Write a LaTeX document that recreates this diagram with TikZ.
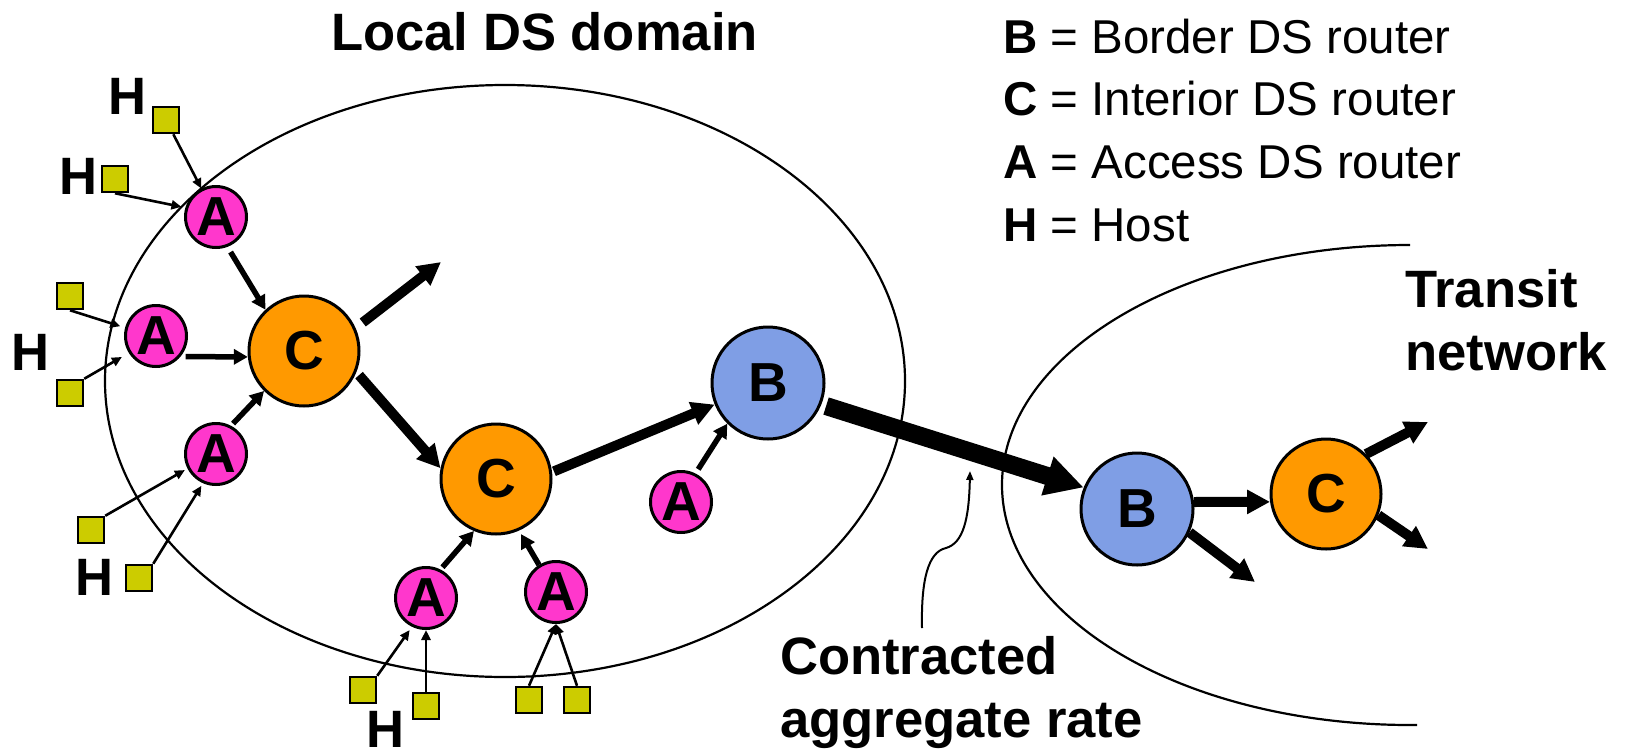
\documentclass[tikz,border=0pt]{standalone}
\usepackage{fontspec}
\setmainfont{Liberation Sans}
\usetikzlibrary{arrows.meta}
\definecolor{amag}{RGB}{255,55,204}
\definecolor{corange}{RGB}{255,153,0}
\definecolor{bblue}{RGB}{127,158,229}
\definecolor{hostyel}{RGB}{204,204,0}
\begin{document}
\begin{tikzpicture}[x=1pt,y=-1pt,
  router/.style={circle, draw=black, line width=3pt, inner sep=0pt, font=\fontsize{55}{60}\selectfont\bfseries},
  anode/.style={router, fill=amag, minimum size=61pt},
  cnode/.style={router, fill=corange, minimum size=110pt},
  bnode/.style={router, fill=bblue, minimum size=112pt},
  host/.style={rectangle, draw=black, line width=2.5pt, fill=hostyel, minimum size=26pt, inner sep=0pt},
  hlabel/.style={anchor=base west, inner sep=0pt, font=\fontsize{52.6}{60}\selectfont\bfseries},
  legend/.style={anchor=base west, inner sep=0pt, font=\fontsize{47.5}{55}\selectfont},
  dsregion/.style={draw=black, line width=2.2pt},
  harrow/.style={line width=2.6pt, -{Triangle[length=10pt,width=9pt]}},
  marrow/.style={line width=5.5pt, -{Triangle[length=14pt,width=15pt]}},
  tarrow/.style={line width=10pt, -{Triangle[length=23pt,width=23pt]}},
  barrow/.style={line width=18pt, -{Triangle[length=38pt,width=38pt]}},
  curvearrow/.style={line width=2pt, -{Triangle[length=9pt,width=7pt]}}
]
\useasboundingbox (0,0) rectangle (1630,753);

% domains
\draw[dsregion] (505,381) ellipse [x radius=400pt, y radius=296pt];
\draw[dsregion] (1410,245) arc[start angle=90, end angle=271, x radius=408pt, y radius=240pt];

% texts
\node[hlabel] (title) at (331,50) {Local DS domain};
\node[legend] (lgB) at (1003,53) {\textbf{B} = Border DS router};
\node[legend] (lgC) at (1003,115) {\textbf{C} = Interior DS router};
\node[legend] (lgA) at (1003,178) {\textbf{A} = Access DS router};
\node[legend] (lgH) at (1003,241) {\textbf{H} = Host};
\node[hlabel] (transit) at (1405,307) {\vtop{\baselineskip=63pt\hbox{Transit}\hbox{network}}};
\node[hlabel] (rate) at (780,674) {\vtop{\baselineskip=63pt\hbox{Contracted}\hbox{aggregate rate}}};

\node[hlabel] (hl1) at (108,114) {H};
\node[hlabel] (hl2) at (59,194) {H};
\node[hlabel] (hl3) at (11,370) {H};
\node[hlabel] (hl4) at (75,595) {H};
\node[hlabel] (hl5) at (366,747) {H};

% hosts
\node[host] (H1) at (166,120) {};
\node[host] (H2) at (115,179) {};
\node[host] (H3) at (70,296) {};
\node[host] (H4) at (70,393) {};
\node[host] (H5) at (91,530) {};
\node[host] (H6) at (139,578) {};
\node[host] (H7) at (363,690) {};
\node[host] (H8) at (426,706) {};
\node[host] (H9) at (529,700) {};
\node[host] (H10) at (577,700) {};

% routers
\node[anode] (A1) at (216,217) {A};
\node[anode] (A2) at (156,336) {A};
\node[anode] (A3) at (216,454) {A};
\node[anode] (A4) at (681,502) {A};
\node[anode] (A5) at (426,598) {A};
\node[anode] (A6) at (556,592) {A};
\node[cnode] (C1) at (304,351) {C};
\node[cnode] (C2) at (496,479) {C};
\node[cnode] (C3) at (1326,494) {C};
\node[bnode] (B1) at (768,383) {B};
\node[bnode] (B2) at (1137,509) {B};

% free ends
\coordinate (o1) at (441,262);
\coordinate (o2) at (1255,582);
\coordinate (o3) at (1428,422);
\coordinate (o4) at (1428,549);
\coordinate (ca) at (922,628);
\coordinate (cb) at (970,471);

% host links
\draw[harrow] (H1) -- (A1);
\draw[harrow, shorten >=4pt] (H2.south) -- (A1.163);
\draw[harrow, shorten >=5pt] (H3.south) -- (A2.165);
\draw[harrow, shorten >=8pt] (H4.north east) -- (A2.212);
\draw[harrow, shorten >=3pt] (H5.north east) -- (A3.207);
\draw[harrow, shorten >=3pt] (H6.north east) -- (A3.246);
\draw[harrow, shorten >=4pt] (H7.north east) -- (A5.244);
\draw[harrow] (H8) -- (A5);
\draw[harrow] (H9.north) -- (A6.south);
\draw[harrow] (H10.north) -- (A6.south);

% access links
\draw[marrow, shorten <=5pt] (A2.-40) -- (C1.186);
\draw[marrow, shorten <=6pt] (A1.-69) -- (C1.133);
\draw[marrow, shorten <=3pt] (A3.62) -- (C1.225);
\draw[marrow, shorten <=5pt] (A4.63) -- (B1.225);
\draw[marrow, shorten <=3pt] (A5.63) -- (C2.247);
\draw[marrow, shorten >=4pt] (A6.122) -- (C2.-66);

% core links
\draw[tarrow, shorten <=9pt] (C1.24) -- (o1);
\draw[tarrow, shorten <=4pt] (C1.-22) -- (C2.169);
\draw[tarrow, shorten <=2pt] (C2.7) -- (B1.202);
\draw[tarrow] (B2.7) -- (C3.188);
\draw[tarrow] (B2.-24) -- (o2);
\draw[tarrow] (C3.45) -- (o3);
\draw[tarrow] (C3.-22) -- (o4);
\draw[barrow, shorten <=5pt] (B1.-22) -- (B2.158);

% annotation
\draw[curvearrow] (ca) .. controls (921,580) and (928,552) .. (946,548) .. controls (963,543) and (969,520) .. (cb);
\end{tikzpicture}
\end{document}
